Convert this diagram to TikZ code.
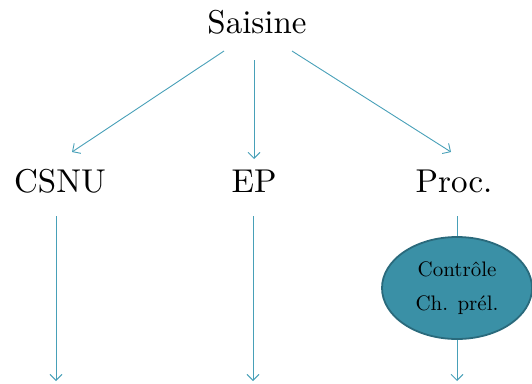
\documentclass[tikz,border=0pt]{standalone}
\usepackage{fontspec}
\setmainfont{lmroman10-regular.otf}
\usetikzlibrary{arrows.meta,shapes.geometric,calc}
\definecolor{lineteal}{RGB}{72,160,184}
\definecolor{ellfill}{RGB}{58,144,166}
\definecolor{elldraw}{RGB}{42,106,124}
\tikzset{
  lbl/.style={font=\fontsize{33}{36}\selectfont, inner sep=0pt, anchor=base},
  arr/.style={draw=lineteal, line width=0.9pt, -{Straight Barb[length=6pt,width=12pt]}},
  ln/.style={draw=lineteal, line width=0.9pt},
  ctrl/.style={ellipse, fill=ellfill, draw=elldraw, line width=1.8pt, minimum width=150pt, minimum height=102pt, inner sep=0pt, align=center, font=\fontsize{21}{34}\selectfont}
}
\begin{document}
\begin{tikzpicture}[x=1pt,y=-1pt]
\useasboundingbox (0,0) rectangle (532,383);
\node[lbl] (saisine) at (257,33) {Saisine};
\node[lbl] (csnu) at (60,192) {CSNU};
\node[lbl] (ep) at (254,192) {EP};
\node[lbl] (proc) at (454,192) {Proc.};
\node[ctrl] (ctrl) at (457,288) {Contrôle\\Ch. prél.};
\coordinate (cb) at (56,381);
\coordinate (eb) at (253,381);
\coordinate (pb) at (457,381);
\draw[arr] ($(saisine.base)+(-33,18)$) -- ($(csnu.base)+(12,-40)$);
\draw[arr] ($(saisine.base)+(-3,27)$) -- ($(ep.base)+(0,-33)$);
\draw[arr] ($(saisine.base)+(35,18)$) -- ($(proc.base)+(-3,-40)$);
\draw[arr] ($(csnu.base)+(-4,24)$) -- (cb);
\draw[arr] ($(ep.base)+(-1,24)$) -- (eb);
\draw[ln] ($(proc.base)+(3,24)$) -- (ctrl.north);
\draw[arr] (ctrl.south) -- (pb);
\end{tikzpicture}
\end{document}
